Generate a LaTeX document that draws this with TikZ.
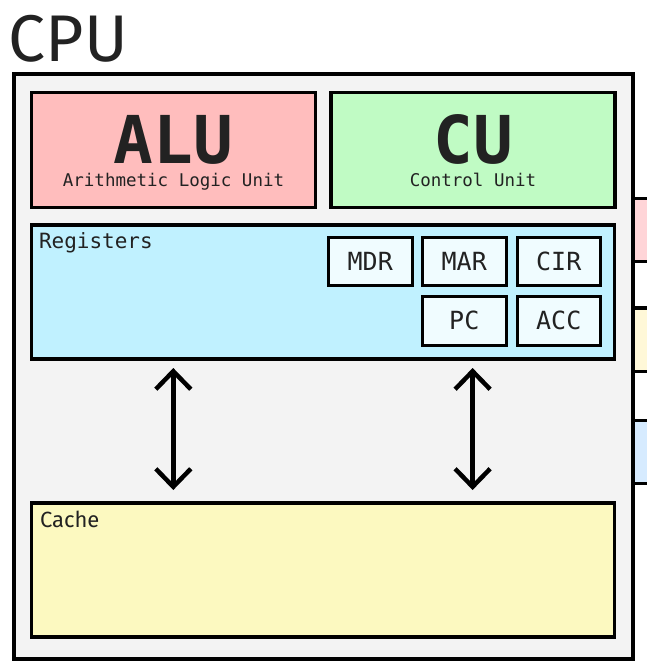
\documentclass[tikz,border=0pt]{standalone}
\usepackage{fontspec}
\newfontfamily\monof{DejaVu Sans Mono}
\newfontfamily\firaf{Fira Sans}
\usetikzlibrary{arrows.meta}
\definecolor{txt}{HTML}{222222}
\definecolor{cpubg}{HTML}{F3F3F3}
\definecolor{alufill}{HTML}{FFBDBD}
\definecolor{cufill}{HTML}{C0FBC4}
\definecolor{regfill}{HTML}{C0F1FF}
\definecolor{rbfill}{HTML}{F0FCFF}
\definecolor{cachefill}{HTML}{FCF9C0}
\definecolor{barpink}{HTML}{FFD5D8}
\definecolor{baryellow}{HTML}{FFF8D8}
\definecolor{barblue}{HTML}{D6EBFF}
\tikzset{
  box/.style={draw=black, line width=3.5pt, inner sep=0pt, outer sep=0pt, rectangle},
  regbox/.style={box, line width=3pt, fill=rbfill, minimum width=83.5pt, minimum height=48.5pt,
     text=txt, font=\monof\fontsize{25}{25}\selectfont},
  bar/.style={draw=black, line width=3.5pt, inner sep=0pt, outer sep=0pt},
  dblarr/.style={line width=4.5pt, draw=black, {Straight Barb[length=18pt,width=35pt]}-{Straight Barb[length=18pt,width=35pt]}},
  lbl/.style={inner sep=0pt, outer sep=0pt, text=txt},
  biglbl/.style={lbl, anchor=base, text depth=0pt, font=\monof\bfseries\fontsize{66}{66}\selectfont},
  sublbl/.style={lbl, anchor=base, text height=12pt, font=\monof\fontsize{17.5}{17.5}\selectfont}
}
\begin{document}
\begin{tikzpicture}[x=1pt,y=-1pt]
\useasboundingbox (0,0) rectangle (646,667);
\fill[white] (0,0) rectangle (646,667);
% bars of neighbouring component (cropped)
\path[bar, fill=barpink] (633,198.3) rectangle (670,261.7);
\path[bar, fill=baryellow] (633,308) rectangle (670,371.7);
\path[bar, fill=barblue] (633,420.3) rectangle (670,483.7);
% CPU
\node[lbl, anchor=base west, font=\firaf\fontsize{66}{66}\selectfont] (cpulbl) at (9,61) {CPU};
\node[box, line width=4pt, fill=cpubg, minimum width=619.5pt, minimum height=585pt, anchor=north west] (cpu) at (13.5,74) {};
% ALU / CU
\node[box, fill=alufill, minimum width=284pt, minimum height=115pt, anchor=north west] (alu) at (31.5,92.5) {};
\node[box, fill=cufill, minimum width=284pt, minimum height=115pt, anchor=north west] (cu) at (331,92.5) {};
\node[biglbl] (alut) at (173.5,163) {ALU};
\node[sublbl] (alus) at (173.5,186) {Arithmetic Logic Unit};
\node[biglbl] (cut) at (473,163) {CU};
\node[sublbl] (cus) at (473,186) {Control Unit};
% Registers
\node[box, fill=regfill, minimum width=583pt, minimum height=134pt, anchor=north west] (regs) at (31.5,225) {};
\node[lbl, anchor=base west, font=\monof\fontsize{21}{21}\selectfont] (regt) at (39,248) {Registers};
\node[regbox, anchor=north west] (mdr) at (328.5,237) {MDR};
\node[regbox, anchor=north west] (mar) at (422.5,237) {MAR};
\node[regbox, anchor=north west] (cir) at (517,237) {CIR};
\node[regbox, anchor=north west] (pc) at (422.5,296.5) {PC};
\node[regbox, anchor=north west] (acc) at (517,296.5) {ACC};
% Cache
\node[box, fill=cachefill, minimum width=583pt, minimum height=134pt, anchor=north west] (cache) at (31.5,503) {};
\node[lbl, anchor=base west, font=\firaf\fontsize{22}{22}\selectfont] (cachet) at (40,527) {Cache};
% arrows
\coordinate (ax1) at (173.3,0);
\coordinate (ax2) at (472.6,0);
\draw[dblarr, shorten <=9pt, shorten >=13pt] (regs.south -| ax1) -- (cache.north -| ax1);
\draw[dblarr, shorten <=9pt, shorten >=13pt] (regs.south -| ax2) -- (cache.north -| ax2);
\end{tikzpicture}
\end{document}
